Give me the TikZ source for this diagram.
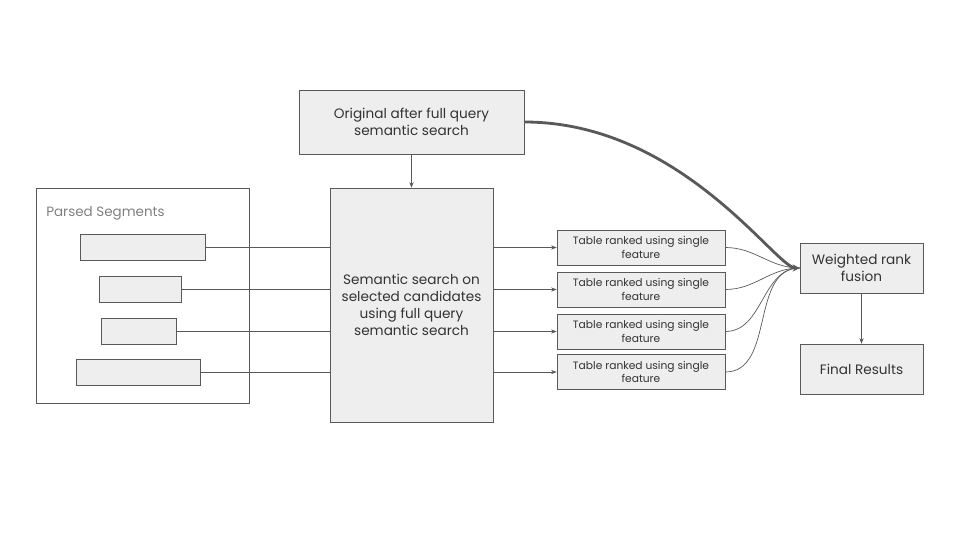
\documentclass[tikz,border=0pt]{standalone}
\usepackage{fontspec}
\setmainfont{Poppins}
\usetikzlibrary{arrows.meta}
\definecolor{boxfill}{HTML}{EEEEEE}
\definecolor{boxline}{HTML}{595959}
\definecolor{txt}{HTML}{333333}
\begin{document}
\begin{tikzpicture}[x=0.025cm,y=-0.025cm,
    graybox/.style={rectangle,draw=boxline,fill=boxfill,inner sep=0,align=center,text=txt,font=\fontsize{9.7}{12}\selectfont},
    tablebox/.style={graybox,minimum width=168*\px,minimum height=35*\px,font=\fontsize{7.6}{9.4}\selectfont},
    link/.style={draw=boxline,line width=0.5pt},
    arr/.style={link,-{Stealth[length=4pt,width=3pt]}}]

    \newcommand*{\px}{0.025cm}%
    \useasboundingbox (0,0) rectangle (960,540);

    % outer frame of the segments
    \node [rectangle,draw=boxline,minimum width=213*\px,minimum height=215*\px,inner sep=0] (parsed) at (142.5,295.5) {};
    \node [anchor=west,inner sep=0,text=gray,font=\fontsize{9.6}{11}\selectfont] (plabel) at (46,213) {Parsed Segments};

    \node [graybox,minimum width=225*\px,minimum height=64*\px] (orig) at (411.5,122) {Original after full query\\semantic search};
    \node [graybox,minimum width=163*\px,minimum height=234*\px] (mid) at (411.5,305) {Semantic search on\\selected candidates\\using full query\\semantic search};
    \node [graybox,minimum width=123*\px,minimum height=50*\px] (fusion) at (861.5,268) {Weighted rank\\fusion};
    \node [graybox,minimum width=123*\px,minimum height=50*\px] (final) at (861.5,369) {Final Results};

  \foreach \i/\x/\y/\w in {1/142.5/247/125,2/140/289.5/82,3/138.5/331/75,4/138/372/124}
       {\node [graybox,minimum width=\w*\px,minimum height=26*\px] (s\i) at (\x,\y) {};
        \draw [link] (s\i.east) -- (s\i.east -| mid.west);}

  \foreach \i/\y in {1/247.5,2/289.5,3/331.5,4/372}
       {\node [tablebox] (t\i) at (641,\y) {Table ranked using single\\feature};
        \draw [arr] (t\i.west -| mid.east) -- (t\i.west);
        \draw [link] (t\i.east) to [out=0,in=180] (fusion.west);}

    \draw [arr] (orig.south) -- (mid.north);
    \draw [arr] (fusion.south) -- (final.north);
    \draw [draw=boxline,line width=2pt,-{Stealth[length=5pt,width=5pt]}] (orig.east) .. controls (681,122) and (776,268) .. (fusion.west);

\end{tikzpicture}
\end{document}
